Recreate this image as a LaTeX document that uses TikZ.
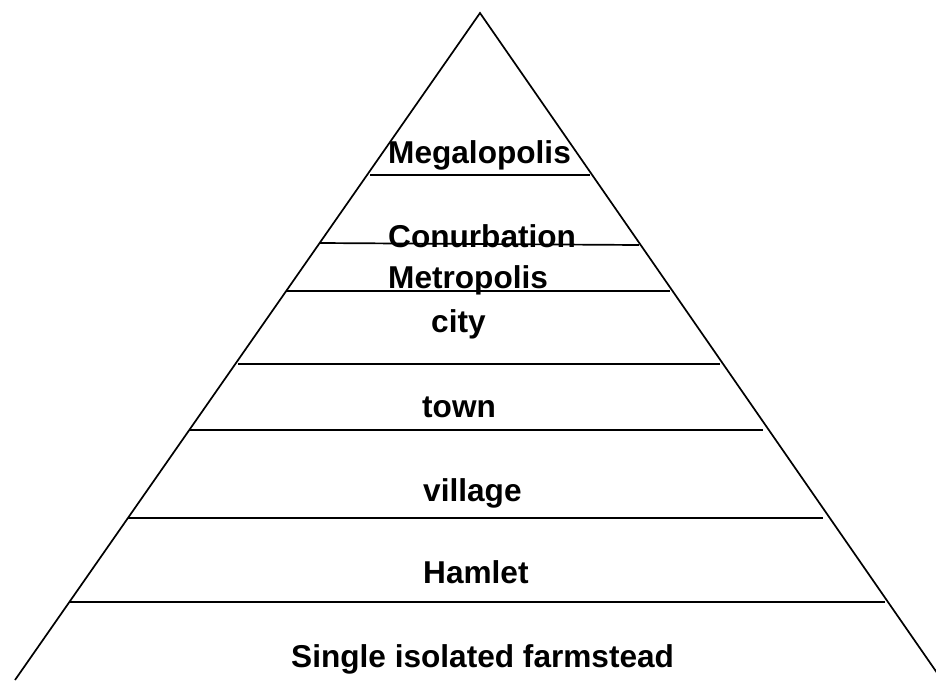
\documentclass[tikz,border=0pt]{standalone}
\usepackage{fontspec}
\setmainfont{Liberation Sans}
\begin{document}
\begin{tikzpicture}[x=1pt,y=-1pt,
  edge/.style={line width=1.7pt,black},
  tier/.style={line width=1.7pt,black},
  lbl/.style={font=\fontsize{31.6}{38}\selectfont\bfseries,inner sep=0pt,anchor=base west}]
\useasboundingbox[fill=white] (0,0) rectangle (936,680);
\clip (0,0) rectangle (936,680);
% pyramid sides
\coordinate (apex) at (480,13);
\coordinate (bl) at (15,680);
\coordinate (br) at (942,680);
\draw[edge] (bl) -- (apex) -- (br);
% tier lines
\draw[tier] (370,175) -- (590,175);
\draw[tier] (320,243) -- (639,245);
\draw[tier] (286,291) -- (670,291);
\draw[tier] (238,364) -- (720,364);
\draw[tier] (190,430) -- (763,430);
\draw[tier] (128,518) -- (823,518);
\draw[tier] (70,602) -- (885,602);
% labels
\node[lbl] (mega) at (388,163) {Megalopolis};
\node[lbl] (conu) at (388,247) {Conurbation};
\node[lbl] (metro) at (388,288) {Metropolis};
\node[lbl] (city) at (431,332) {city};
\node[lbl] (town) at (422,417) {town};
\node[lbl] (village) at (423,501) {village};
\node[lbl] (hamlet) at (423,583) {Hamlet};
\node[lbl] (single) at (291,667) {Single isolated farmstead};
\end{tikzpicture}
\end{document}
